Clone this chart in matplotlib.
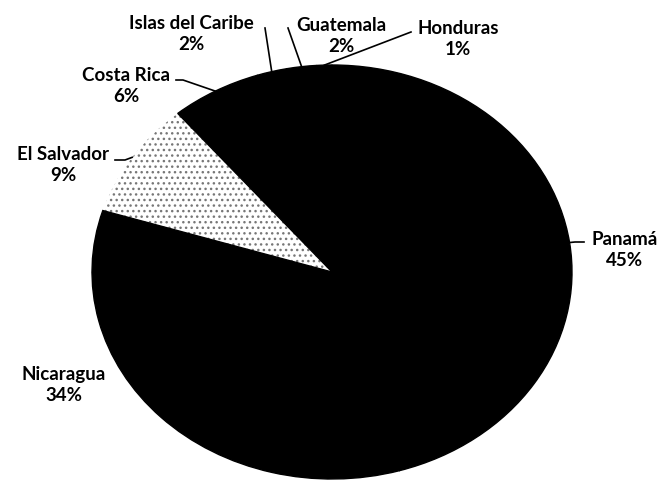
import matplotlib.pyplot as plt
import numpy as np

# Distribución por país
paises = ['Panamá', 'Nicaragua', 'El Salvador', 'Costa Rica',
          'Islas del Caribe', 'Guatemala', 'Honduras']
porcentajes = [45, 34, 9, 6, 2, 2, 1]
colores = ['black', 'black', 'white', 'black', 'black', 'black', 'black']

# posiciones de las etiquetas (pixeles) y puntos de las líneas guía
etiquetas_pos = {
    'Panamá': (625, 250),
    'Nicaragua': (64, 385),
    'El Salvador': (63, 165),
    'Costa Rica': (126, 86),
    'Islas del Caribe': (191, 34),
    'Guatemala': (341, 36),
    'Honduras': (458, 39),
}
guias = {
    'Panamá': [(584, 242), (575, 242)],
    'El Salvador': [(115, 160), (125, 160)],
    'Costa Rica': [(176, 80), (183, 80)],
    'Islas del Caribe': [(265, 28)],
    'Guatemala': [(288, 28)],
    'Honduras': [(411, 32)],
}

CX, CY, RX, RY = 332, 272, 240, 207


def px(x, y):
    return (x - CX) / RX, (CY - y) / RY


fig = plt.figure(figsize=(6.62, 4.83), dpi=100)
ax = fig.add_axes([0, 0, 1, 1])
wedges, _ = ax.pie(porcentajes, colors=colores, startangle=90, counterclock=False,
                   wedgeprops=dict(linewidth=1, edgecolor='black'))
wedges[2].set_hatch('...')
wedges[2].set_edgecolor('#777777')
wedges[2].set_linewidth(0)
wedges[2].set_zorder(0)

ax.set_aspect('auto')
ax.set_xlim(px(0, 0)[0], px(662, 0)[0])
ax.set_ylim(px(0, 483)[1], px(0, 0)[1])
ax.axis('off')

for w, nombre, p in zip(wedges, paises, porcentajes):
    tx, ty = px(*etiquetas_pos[nombre])
    ax.text(tx, ty, f'{nombre}\n{p}%', ha='center', va='center',
            fontsize=13.5, fontweight='bold', family='Lato', linespacing=1.3)
    if nombre in guias:
        ang = np.deg2rad((w.theta1 + w.theta2) / 2)
        pts = [px(*q) for q in guias[nombre]] + [(np.cos(ang), np.sin(ang))]
        xs, ys = zip(*pts)
        ax.plot(xs, ys, color='black', lw=1.2, clip_on=False)

plt.savefig('out.png', dpi=100)
